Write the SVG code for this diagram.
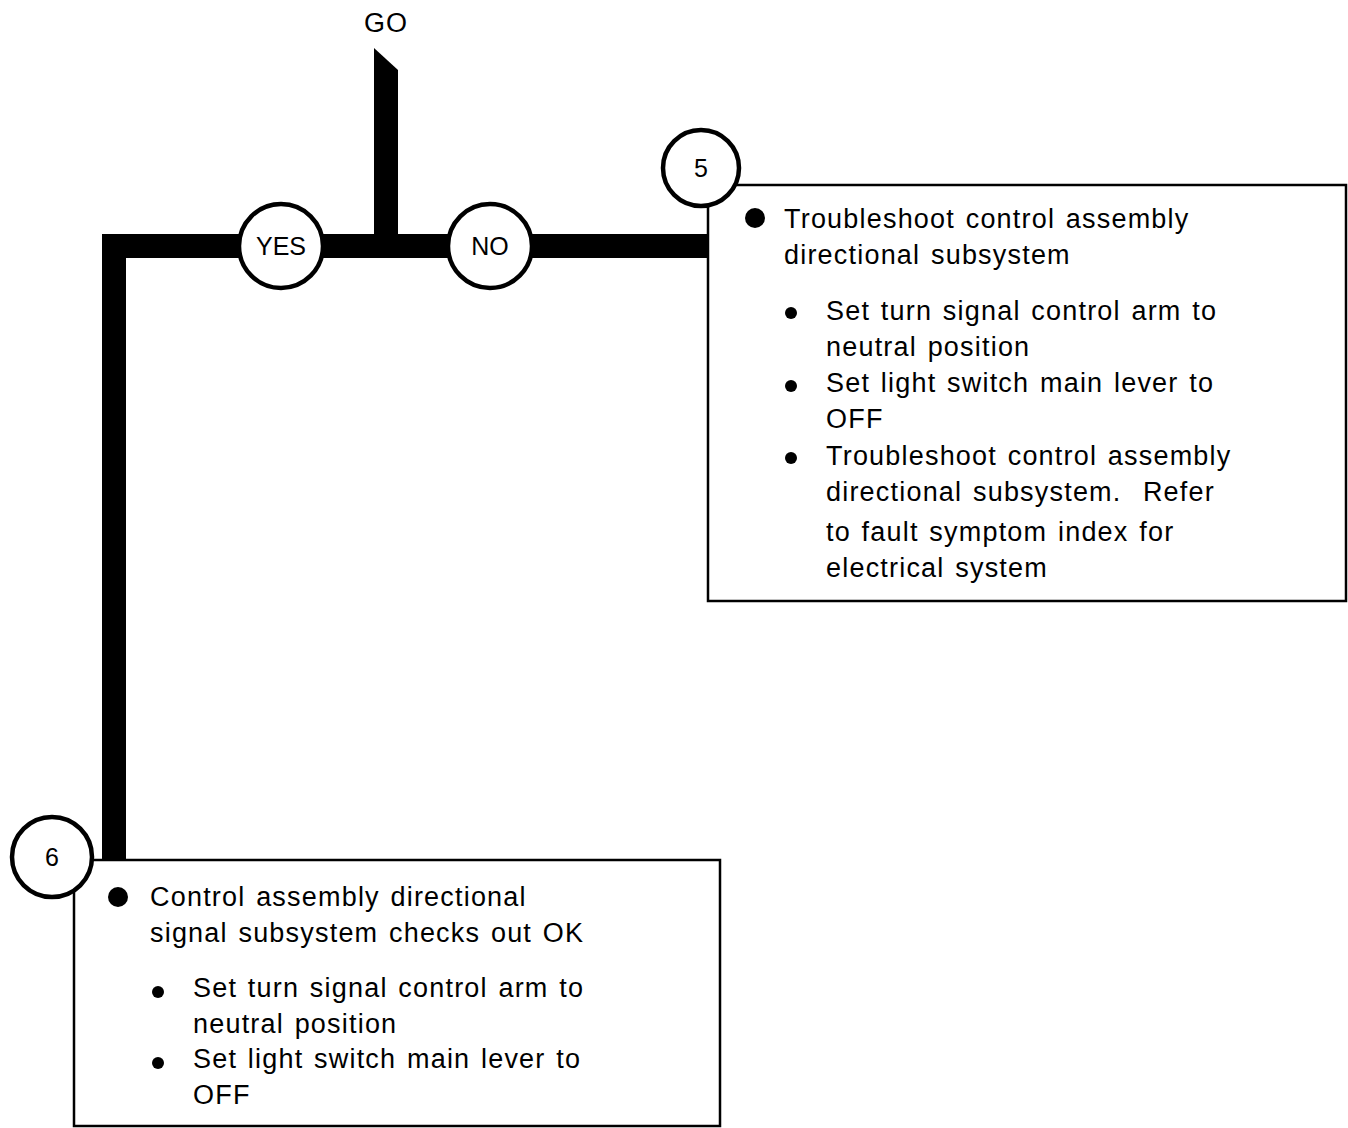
<svg xmlns="http://www.w3.org/2000/svg" width="1348" height="1128" viewBox="0 0 1348 1128">
<style>
.t{font-family:"Liberation Sans",Arial,sans-serif;font-size:27px;fill:#000;letter-spacing:1.2px;word-spacing:2px}
.c{font-family:"Liberation Sans",Arial,sans-serif;font-size:25px;fill:#000;text-anchor:middle}
.box{fill:#fff;stroke:#000;stroke-width:2.5}
.circ{fill:#fff;stroke:#000;stroke-width:4.5}
.bar{fill:#000}
</style>
<rect width="1348" height="1128" fill="#fff"/>
<g id="connectors">
<polygon class="bar" points="374,48 398,70 398,246 374,246"/>
<rect class="bar" x="102" y="234" width="606" height="24"/>
<rect class="bar" x="102" y="234" width="24" height="630"/>
</g>
<text class="c" x="386" y="32" style="font-size:27px;letter-spacing:1px">GO</text>
<g id="yes"><circle class="circ" cx="281" cy="246" r="42"/><text class="c" x="281" y="255">YES</text></g>
<g id="no"><circle class="circ" cx="490" cy="246" r="42"/><text class="c" x="490" y="255">NO</text></g>
<g id="node5">
<rect class="box" x="708" y="185" width="638" height="416"/>
<circle class="circ" cx="701" cy="168" r="38"/>
<text class="c" x="701" y="177">5</text>
<circle cx="755" cy="218" r="10"/>
<text class="t" x="784" y="228">Troubleshoot control assembly</text>
<text class="t" x="784" y="264">directional subsystem</text>
<circle cx="791" cy="313" r="6"/>
<text class="t" x="826" y="320">Set turn signal control arm to</text>
<text class="t" x="826" y="356">neutral position</text>
<circle cx="791" cy="386" r="6"/>
<text class="t" x="826" y="392">Set light switch main lever to</text>
<text class="t" x="826" y="428">OFF</text>
<circle cx="791" cy="458" r="6"/>
<text class="t" x="826" y="465">Troubleshoot control assembly</text>
<text class="t" x="826" y="501" xml:space="preserve">directional subsystem.  Refer</text>
<text class="t" x="826" y="541">to fault symptom index for</text>
<text class="t" x="826" y="577">electrical system</text>
</g>
<g id="node6">
<rect class="box" x="74" y="860" width="646" height="266"/>
<circle class="circ" cx="52" cy="857" r="40"/>
<text class="c" x="52" y="866">6</text>
<circle cx="118" cy="897" r="10"/>
<text class="t" x="150" y="906">Control assembly directional</text>
<text class="t" x="150" y="942">signal subsystem checks out OK</text>
<circle cx="158" cy="992" r="6"/>
<text class="t" x="193" y="997">Set turn signal control arm to</text>
<text class="t" x="193" y="1033">neutral position</text>
<circle cx="158" cy="1063" r="6"/>
<text class="t" x="193" y="1068">Set light switch main lever to</text>
<text class="t" x="193" y="1104">OFF</text>
</g>
</svg>
